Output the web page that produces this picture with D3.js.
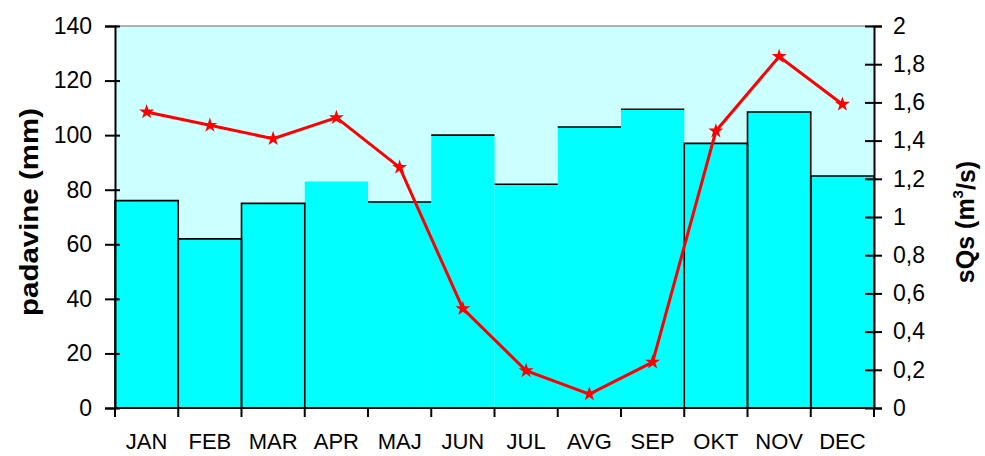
<!DOCTYPE html>
<html>
<head>
<meta charset="utf-8">
<script src="https://cdn.jsdelivr.net/npm/d3@7"></script>
<style>
  html, body { margin: 0; padding: 0; background: #ffffff; }
  svg { display: block; font-family: "Liberation Sans", Arial, sans-serif; }
</style>
</head>
<body>
<svg id="chart" width="985" height="456"></svg>
<script>
const months = ["JAN","FEB","MAR","APR","MAJ","JUN","JUL","AVG","SEP","OKT","NOV","DEC"];
const padavine = [76, 62, 75, 83, 75.5, 100, 82, 103, 109.5, 97, 108.5, 85];
const sQs = [1.55, 1.48, 1.41, 1.52, 1.26, 0.52, 0.195, 0.073, 0.24, 1.45, 1.84, 1.59];
const leftTicks = [0, 20, 40, 60, 80, 100, 120, 140];
const rightTicks = [0, 0.2, 0.4, 0.6, 0.8, 1, 1.2, 1.4, 1.6, 1.8, 2];
const leftTitle = "padavine (mm)";

const svg = d3.select("#chart");
const L = 115, R = 874, T = 26, B = 408;

const x = d3.scaleBand().domain(months).range([L, R]).padding(0);
const yL = d3.scaleLinear().domain([0, 140]).range([B, T]);
const yR = d3.scaleLinear().domain([0, 2]).range([B, T]);

// plot background
svg.append("rect").attr("x", L).attr("y", T).attr("width", R - L).attr("height", B - T)
  .attr("fill", "#ccffff");

// bars fill
const data = months.map((m, i) => ({ m, i, v: padavine[i], q: sQs[i] }));
svg.append("g").selectAll("rect").data(data).join("rect")
  .attr("x", d => x(d.m)).attr("y", d => yL(d.v))
  .attr("width", x.bandwidth()).attr("height", d => B - yL(d.v))
  .attr("fill", "#00ffff");

// bar outlines (as they appear in the reference)
const outl = svg.append("g").attr("fill", "none").attr("stroke", "#000").attr("stroke-width", 1.6);
data.forEach(d => {
  const x0 = x(d.m), x1 = x0 + x.bandwidth(), yt = yL(d.v);
  if (d.i <= 2 || d.i >= 9) {
    outl.append("path").attr("d", `M${x0},${B}V${yt}H${x1}V${B}`);
  } else if (d.i >= 4) {
    outl.append("path").attr("d", `M${x0},${yt}H${x1}`);
  }
});

// top border
svg.append("line").attr("x1", L).attr("x2", R).attr("y1", T).attr("y2", T)
  .attr("stroke", "#9a9a9a").attr("stroke-width", 1.5);

// left axis
const gL = svg.append("g").attr("transform", `translate(${L},0)`)
  .call(d3.axisLeft(yL).tickValues(leftTicks).tickSize(10).tickPadding(13).tickFormat(d3.format("d")));
gL.selectAll(".tick line").attr("x1", 5).attr("stroke-width", 2);
gL.select(".domain").attr("stroke-width", 2);
gL.selectAll("text").attr("font-size", 23).attr("fill", "#000").attr("font-family", "Liberation Sans, Arial, sans-serif");

// right axis
const fmtR = d => String(+d.toFixed(1)).replace(".", ",");
const gR = svg.append("g").attr("transform", `translate(${R},0)`)
  .call(d3.axisRight(yR).tickValues(rightTicks).tickSize(8).tickPadding(11).tickFormat(fmtR));
gR.selectAll(".tick line").attr("x1", -9).attr("stroke-width", 2);
gR.select(".domain").attr("stroke-width", 2);
gR.selectAll("text").attr("font-size", 23).attr("fill", "#000").attr("font-family", "Liberation Sans, Arial, sans-serif");

// bottom axis
const gB = svg.append("g").attr("transform", `translate(0,${B})`)
  .call(d3.axisBottom(x).tickSize(0).tickPadding(25));
gB.select(".domain").attr("stroke-width", 2.2).attr("d", `M${L},0H${R}`);
gB.selectAll("text").attr("font-size", 22).attr("fill", "#000").attr("font-family", "Liberation Sans, Arial, sans-serif");
const bounds = months.map(m => x(m)).concat([x.range()[1]]);
gB.selectAll(".bt").data(bounds).join("line").attr("class", "bt")
  .attr("x1", d => d).attr("x2", d => d).attr("y1", 0).attr("y2", 9)
  .attr("stroke", "#000").attr("stroke-width", 2);

// line series
const cx = d => x(d.m) + x.bandwidth() / 2;
const line = d3.line().x(cx).y(d => yR(d.q));
svg.append("path").datum(data).attr("d", line)
  .attr("fill", "none").attr("stroke", "#ff0000").attr("stroke-width", 3);
svg.append("g").selectAll("path").data(data).join("path")
  .attr("transform", d => `translate(${cx(d)},${yR(d.q)})`)
  .attr("d", d3.symbol().type(d3.symbolStar).size(70))
  .attr("fill", "#ff0000");

// axis titles
svg.append("text")
  .attr("transform", "translate(29,212) rotate(-90)")
  .attr("text-anchor", "middle").attr("dy", "0.35em")
  .attr("font-size", 25).attr("font-weight", "bold")
  .attr("textLength", 208).attr("lengthAdjust", "spacingAndGlyphs")
  .text(leftTitle);

const rt = svg.append("text")
  .attr("transform", "translate(965,222) rotate(-90)")
  .attr("text-anchor", "middle").attr("dy", "0.35em")
  .attr("font-size", 25).attr("font-weight", "bold");
rt.append("tspan").text("sQs (m");
rt.append("tspan").attr("font-size", 15).attr("dy", "-0.7em").text("3");
rt.append("tspan").attr("dy", "0.47em").text("/s)");
</script>
</body>
</html>
